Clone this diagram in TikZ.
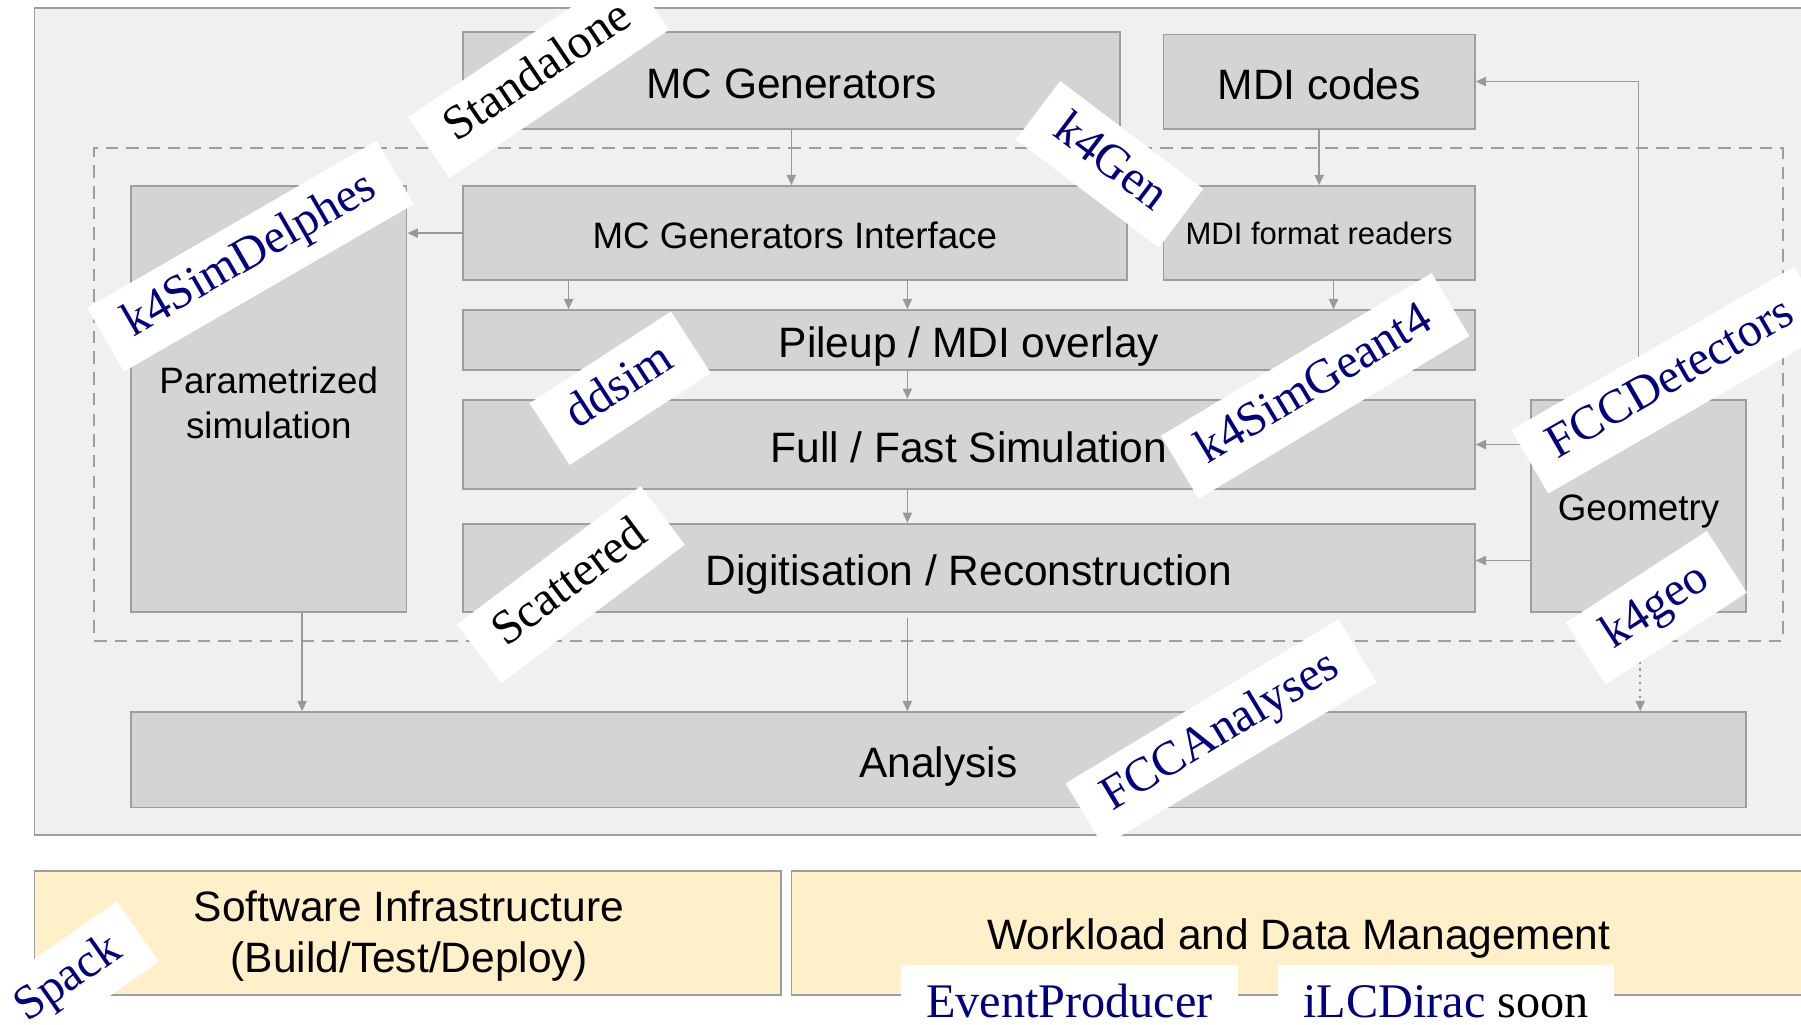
\documentclass[tikz,border=0pt]{standalone}
\usepackage{fontspec}
\setmainfont{Liberation Serif}
\newfontfamily\arialfont{Liberation Sans}
\usetikzlibrary{arrows.meta}
\definecolor{panelfill}{HTML}{F0F0F0}
\definecolor{boxfill}{HTML}{D4D4D4}
\definecolor{edgegray}{HTML}{9E9E9E}
\definecolor{linegray}{HTML}{999999}
\definecolor{infrafill}{HTML}{FFF0C9}
\definecolor{tagblue}{HTML}{00007F}
\newcommand\sfBig{\arialfont\fontsize{37}{45}\selectfont}
\newcommand\sfMid{\arialfont\fontsize{32}{39}\selectfont}
\newcommand\sfSmall{\arialfont\fontsize{27}{32}\selectfont}
\newcommand\serTag{\fontsize{42}{48}\selectfont}
\begin{document}
\begin{tikzpicture}[x=1pt,y=-1pt,
  mybox/.style={draw=edgegray, fill=boxfill, line width=1.5pt, inner sep=0pt, align=center},
  bigtext/.style={font=\sfBig, text height=38pt, text depth=7pt},
  midtext/.style={font=\sfMid, text height=32pt, text depth=6pt},
  panelbox/.style={draw=edgegray, fill=panelfill, line width=1.5pt, inner sep=0pt},
  infrabox/.style={draw=edgegray, fill=infrafill, line width=1.5pt, inner sep=0pt, align=center},
  arr/.style={draw=linegray, line width=1.4pt, -{Triangle[length=9pt,width=8pt]}},
  tag/.style={fill=white, text=tagblue, font=\serTag, inner xsep=22pt, inner ysep=13pt, text height=29pt, text depth=9pt},
]
\useasboundingbox (0,0) rectangle (1568,892);
\clip (0,0) rectangle (1568,892);
\fill[white] (0,0) rectangle (1568,892);

% outer panel
\node[panelbox, minimum width=1543pt, minimum height=720pt] (panel) at (801.5,367) {};
% dashed region
\node[draw=edgegray, line width=1.5pt, dash pattern=on 11pt off 7pt, minimum width=1470pt, minimum height=429pt, inner sep=0pt] (region) at (817,343.5) {};

% boxes
\node[mybox, minimum width=572pt, minimum height=84pt, bigtext] (mcg) at (689,70) {MC Generators};
\node[mybox, minimum width=271pt, minimum height=82pt, bigtext] (mdi) at (1148.5,71) {MDI codes};
\node[mybox, minimum width=578pt, minimum height=82pt, midtext] (mcgi) at (692,203) {MC Generators Interface};
\node[mybox, minimum width=271pt, minimum height=82pt, font=\sfSmall] (mdir) at (1148.5,203) {MDI format readers};
\node[mybox, minimum width=240pt, minimum height=371pt] (param) at (234,347.5) {};
\node[font=\sfMid, align=center, inner sep=0pt] (paramtext) at (234,351) {Parametrized\\simulation};
\node[mybox, minimum width=881pt, minimum height=52pt, bigtext] (pile) at (843.5,296) {Pileup / MDI overlay};
\node[mybox, minimum width=881pt, minimum height=78pt, bigtext] (full) at (843.5,387) {Full / Fast Simulation};
\node[mybox, minimum width=881pt, minimum height=77pt, bigtext] (digi) at (843.5,494.5) {Digitisation / Reconstruction};
\node[mybox, minimum width=187pt, minimum height=185pt, midtext] (geo) at (1426.5,440.5) {Geometry};
\node[mybox, minimum width=1406pt, minimum height=83pt, bigtext] (ana) at (817,661.5) {Analysis};
\node[infrabox, minimum width=650pt, minimum height=108pt] (sw) at (355,812) {};
\node[font=\sfBig, align=center, inner sep=0pt] (swtext) at (356,815) {Software Infrastructure\\(Build/Test/Deploy)};
\node[infrabox, minimum width=884pt, minimum height=108pt] (wl) at (1131,812) {};
\node[font=\sfBig, inner sep=0pt] (wltext) at (1131,817) {Workload and Data Management};

% helper positions
\coordinate (xa) at (495,0);
\coordinate (xb) at (790,0);
\coordinate (xc) at (1161,0);
\coordinate (xd) at (263,0);
\coordinate (xe) at (1428,0);
\coordinate (ya) at (0,488);
\coordinate (yb) at (0,538);

% connectors
\draw[arr] (mcg.south) -- (mcgi.north -| mcg.south);
\draw[arr] (mdi.south) -- (mdir.north -| mdi.south);
\draw[arr] (mcgi.west) -- (param.east |- mcgi.west);
\draw[arr] (mcgi.south -| xa) -- (pile.north -| xa);
\draw[arr] (mcgi.south -| xb) -- (pile.north -| xb);
\draw[arr] (mdir.south -| xc) -- (pile.north -| xc);
\draw[arr] (pile.south -| xb) -- (full.north -| xb);
\draw[arr] (full.south -| xb) -- (digi.north -| xb);
\draw[arr] (yb -| xb) -- (ana.north -| xb);
\draw[arr] (param.south -| xd) -- (ana.north -| xd);
\draw[arr] (geo.west |- full.east) -- (full.east);
\draw[arr] (geo.west |- ya) -- (digi.east |- ya);
\draw[arr] (geo.north) |- (mdi.east);
\draw[arr, dash pattern=on 2pt off 4pt] (geo.south -| xe) -- (ana.north -| xe);

% tags
\node[tag, text=black, rotate=34] (tStandalone) at (469,64) {Standalone};
\node[tag, rotate=30] (tDelphes) at (218,223) {k4SimDelphes};
\node[tag, rotate=-37] (tGen) at (966,143) {k4Gen};
\node[tag, rotate=33] (tddsim) at (540,338) {ddsim};
\node[tag, rotate=31] (tGeant) at (1145,336) {k4SimGeant4};
\node[tag, rotate=30] (tDet) at (1455,331) {FCCDetectors};
\node[tag, text=black, rotate=37] (tScat) at (497,509) {Scattered};
\node[tag, rotate=33] (tgeo) at (1442,529) {k4geo};
\node[tag, rotate=31] (tAna) at (1063,638) {FCCAnalyses};
\node[tag, rotate=35] (tSpack) at (60,853) {Spack};
\node[tag, anchor=base, minimum width=282pt, inner ysep=17pt] (tEvent) at (931,886) {EventProducer};
\node[tag, anchor=base, minimum width=282pt, inner ysep=17pt] (tDirac) at (1259,886) {iLCDirac \textcolor{black}{soon}};
\end{tikzpicture}
\end{document}
